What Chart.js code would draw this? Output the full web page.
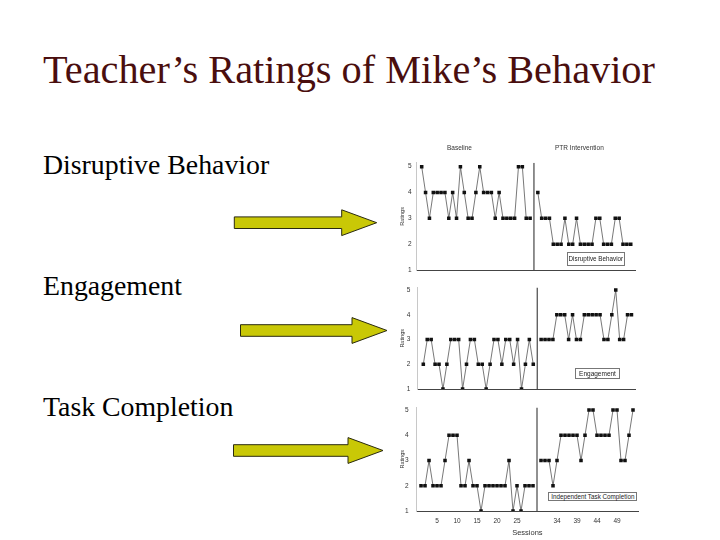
<!DOCTYPE html>
<html>
<head>
<meta charset="utf-8">
<script src="https://cdn.jsdelivr.net/npm/chart.js@4.4.1/dist/chart.umd.min.js"></script>
<style>
    html, body { margin: 0; padding: 0; background: #fff; }
    body { width: 720px; height: 540px; position: relative; overflow: hidden; }
    canvas { position: absolute; }
    .note {
        position: absolute;
        font-family: "Liberation Sans", Arial, sans-serif;
        color: #333;
        white-space: nowrap;
    }
    .box {
        position: absolute;
        box-sizing: border-box;
        border: 1px solid #777;
        background: #fff;
        font-family: "Liberation Sans", Arial, sans-serif;
        font-size: 6.3px;
        color: #222;
        display: flex;
        align-items: center;
        justify-content: center;
        white-space: nowrap;
    }
</style>
</head>
<body>

<svg id="slide" width="720" height="540" style="position:absolute;left:0;top:0">
    <text x="43" y="83.3" font-family="Liberation Serif, Times New Roman, serif" font-size="40.3" fill="#4a0e0e">Teacher’s Ratings of Mike’s Behavior</text>
    <text x="43" y="174.3" font-family="Liberation Serif, Times New Roman, serif" font-size="27.8" fill="#000">Disruptive Behavior</text>
    <text x="43" y="295.3" font-family="Liberation Serif, Times New Roman, serif" font-size="27.8" fill="#000">Engagement</text>
    <text x="43" y="416.3" font-family="Liberation Serif, Times New Roman, serif" font-size="27.8" fill="#000">Task Completion</text>
</svg>

<canvas id="disruptive-chart" width="250" height="140" style="left:395px;top:140px"></canvas>
<canvas id="engagement-chart" width="250" height="125" style="left:395px;top:275px"></canvas>
<canvas id="task-chart" width="250" height="145" style="left:395px;top:395px"></canvas>

<div class="note" style="left:447px;top:144px;font-size:6.5px">Baseline</div>
<div class="note" style="left:555px;top:143.5px;font-size:6.5px">PTR Intervention</div>

<div class="box" style="left:566.7px;top:251.7px;width:58.3px;height:14.3px">Disruptive Behavior</div>
<div class="box" style="left:575px;top:368.3px;width:45px;height:10.7px;font-size:6.5px">Engagement</div>
<div class="box" style="left:548.3px;top:491.7px;width:89px;height:9.3px">Independent Task Completion</div>

<script>
// Ratings (1-5), one value per session
const disruptiveBaseline = [5, 4, 3, 4, 4, 4, 4, 3, 4, 3, 5, 4, 3, 3, 4, 5, 4, 4, 4, 3, 4, 3, 3, 3, 3, 5, 5, 3, 3];
const disruptiveIntervention = [4, 3, 3, 3, 2, 2, 2, 3, 2, 2, 3, 2, 2, 2, 2, 3, 3, 2, 2, 2, 3, 3, 2, 2, 2];

const engagementBaseline = [2, 3, 3, 2, 2, 1, 2, 3, 3, 3, 1, 2, 3, 3, 2, 2, 1, 2, 3, 3, 2, 3, 3, 2, 3, 1, 2, 3, 2];
const engagementIntervention = [3, 3, 3, 3, 4, 4, 4, 3, 4, 3, 3, 4, 4, 4, 4, 4, 3, 3, 4, 5, 3, 3, 4, 4];

const taskBaseline = [2, 2, 3, 2, 2, 2, 3, 4, 4, 4, 2, 2, 3, 2, 2, 1, 2, 2, 2, 2, 2, 2, 3, 1, 2, 1, 2, 2, 2];
const taskIntervention = [3, 3, 3, 2, 3, 4, 4, 4, 4, 4, 3, 4, 5, 5, 4, 4, 4, 4, 5, 5, 3, 3, 4, 5];

// Axis ticks
const ratingTicks = [1, 2, 3, 4, 5];
const sessionTickSlots = [5, 10, 15, 20, 25, 35, 40, 45, 50];
const sessionTickLabels = ['5', '10', '15', '20', '25', '34', '39', '44', '49'];

// Phase change: one empty slot between baseline and intervention
const phaseChangeSlot = 30;
const interventionFirstSlot = 31;

// Arrows pointing from the labels to the panels (decoration)
function drawArrow(x0, xTip, cy) {
    const headLen = 35, shaftHalf = 5.8, headHalf = 12.9;
    const xh = xTip - headLen;
    const pts = [
        [x0, cy - shaftHalf], [xh, cy - shaftHalf], [xh, cy - headHalf],
        [xTip, cy], [xh, cy + headHalf], [xh, cy + shaftHalf], [x0, cy + shaftHalf]
    ].map(p => p.join(',')).join(' ');
    const poly = document.createElementNS('http://www.w3.org/2000/svg', 'polygon');
    poly.setAttribute('points', pts);
    poly.setAttribute('fill', '#c9c806');
    poly.setAttribute('stroke', '#2a2a10');
    poly.setAttribute('stroke-width', '1');
    document.getElementById('slide').appendChild(poly);
}
drawArrow(234.3, 376.7, 222.7);
drawArrow(240.5, 387, 330.5);
drawArrow(233.5, 383, 450.5);

const sans = '"Liberation Sans", Arial, sans-serif';

function toPoints(values, firstSlot) {
    return values.map((v, i) => ({ x: firstSlot + i, y: v }));
}

function seriesStyle() {
    return {
        borderColor: '#555',
        borderWidth: 0.8,
        pointStyle: 'rect',
        pointRadius: 2.5,
        pointBorderWidth: 0,
        pointBackgroundColor: '#111',
        tension: 0
    };
}

function makePanel(id, baseline, intervention, g) {
    const ctx = document.getElementById(id).getContext('2d');
    return new Chart(ctx, {
        type: 'line',
        data: {
            datasets: [
                Object.assign({ data: toPoints(baseline, 1) }, seriesStyle()),
                Object.assign({ data: toPoints(intervention, interventionFirstSlot) }, seriesStyle()),
                {
                    data: [{ x: phaseChangeSlot, y: 1 }, { x: phaseChangeSlot, y: g.yMax }],
                    borderColor: '#222',
                    borderWidth: 1,
                    pointRadius: 0
                }
            ]
        },
        options: {
            responsive: false,
            animation: false,
            layout: { padding: { left: 0, right: g.padRight, top: g.padTop, bottom: 0 } },
            plugins: { legend: { display: false }, tooltip: { enabled: false } },
            scales: {
                x: {
                    type: 'linear',
                    min: g.xMin,
                    max: g.xMax,
                    grid: { display: false, drawTicks: false },
                    border: { display: true, color: '#444', width: 1 },
                    ticks: {
                        display: g.showSessions,
                        autoSkip: false,
                        maxRotation: 0,
                        padding: 6,
                        color: '#333',
                        font: { family: sans, size: 6.5 },
                        callback: (v, i) => sessionTickLabels[i]
                    },
                    afterBuildTicks: s => { s.ticks = sessionTickSlots.map(v => ({ value: v })); },
                    afterFit: s => { s.height = g.xHeight; },
                    title: {
                        display: g.showSessions,
                        text: 'Sessions',
                        color: '#333',
                        font: { family: sans, size: 7.5 },
                        padding: { top: 0, bottom: 3 }
                    }
                },
                y: {
                    type: 'linear',
                    min: 1,
                    max: g.yMax,
                    grid: { display: false, drawTicks: false },
                    border: { display: true, color: '#c8c8c8', width: 1 },
                    ticks: {
                        autoSkip: false,
                        padding: g.tickPad,
                        color: '#333',
                        font: { family: sans, size: 6.5 },
                        callback: v => String(v)
                    },
                    afterBuildTicks: s => { s.ticks = ratingTicks.map(v => ({ value: v })); },
                    afterFit: s => { s.width = g.yWidth; },
                    title: {
                        display: true,
                        text: 'Ratings',
                        color: '#333',
                        font: { family: sans, size: 5.5 },
                        padding: { top: 4, bottom: 0 }
                    }
                }
            }
        }
    });
}

makePanel('disruptive-chart', disruptiveBaseline, disruptiveIntervention, {
    xMin: -0.29, xMax: 56.1, yMax: 5.15, padTop: 22.8, padRight: 10,
    yWidth: 21.7, xHeight: 10, tickPad: 5, showSessions: false
});
makePanel('engagement-chart', engagementBaseline, engagementIntervention, {
    xMin: -0.53, xMax: 54.9, yMax: 5.1, padTop: 12.5, padRight: 10,
    yWidth: 22.3, xHeight: 9, tickPad: 7, showSessions: false
});
makePanel('task-chart', taskBaseline, taskIntervention, {
    xMin: -0.08, xMax: 55.25, yMax: 5.1, padTop: 12.5, padRight: 7,
    yWidth: 21.7, xHeight: 29, tickPad: 8, showSessions: true
});
</script>
</body>
</html>
